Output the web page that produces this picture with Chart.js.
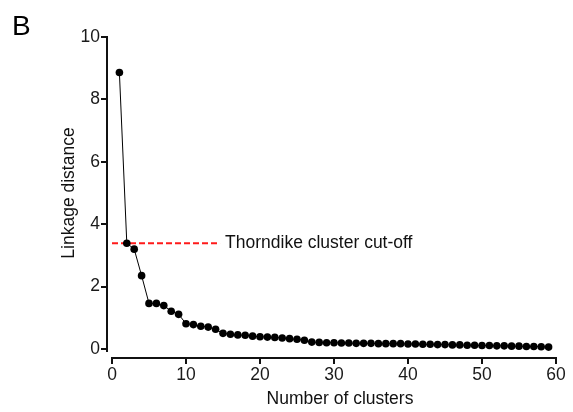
<!DOCTYPE html>
<html lang="en">
<head>
    <meta charset="UTF-8">
    <meta name="viewport" content="width=device-width, initial-scale=1.0">
    <title>Linkage distance</title>
    <script src="https://cdn.jsdelivr.net/npm/chart.js"></script>
    <style>
        html, body { margin: 0; padding: 0; background: #fff; }
        #wrap { width: 573px; height: 412px; }
    </style>
</head>
<body>
    <div id="wrap"><canvas id="chart"></canvas></div>

    <script>
        // number of clusters and linkage distance
        const clusters = [];
        for (let i = 1; i <= 59; i++) clusters.push(i);
        const distance = [
            8.86, 3.39, 3.20, 2.35, 1.46, 1.46, 1.39, 1.21, 1.11, 0.81,
            0.78, 0.73, 0.70, 0.63, 0.50, 0.47, 0.45, 0.44, 0.41, 0.39,
            0.38, 0.37, 0.35, 0.33, 0.31, 0.28, 0.22, 0.21, 0.20, 0.20,
            0.19, 0.19, 0.18, 0.18, 0.18, 0.17, 0.17, 0.17, 0.17, 0.16,
            0.16, 0.15, 0.15, 0.14, 0.14, 0.13, 0.13, 0.12, 0.12, 0.11,
            0.11, 0.10, 0.10, 0.09, 0.09, 0.08, 0.08, 0.07, 0.06
        ];
        // cut-off line
        const cutoffX = [0, 14.6];
        const cutoffY = 3.39;
        const cutoffLabel = 'Thorndike cluster cut-off';

        const xTicks = [0, 10, 20, 30, 40, 50, 60];
        const yTicks = [0, 2, 4, 6, 8, 10];
        const xTitle = 'Number of clusters';
        const yTitle = 'Linkage distance';

        const FONT = 'Liberation Sans, Arial, Helvetica, sans-serif';
        const FS = 17.5;
        Chart.defaults.font.family = FONT;
        Chart.defaults.color = '#1a1a1a';

        // axis lines like Prism (offset), titles, panel letter, cut-off label
        const extras = {
            id: 'extras',
            afterDraw(chart) {
                const ctx = chart.ctx;
                const x = chart.scales.x, y = chart.scales.y;
                ctx.save();
                ctx.strokeStyle = '#111';
                ctx.lineWidth = 2;
                ctx.beginPath();
                const ax = x.left;
                ctx.moveTo(ax, y.getPixelForValue(10) - 1);
                ctx.lineTo(ax, y.getPixelForValue(-0.1));
                ctx.moveTo(x.getPixelForValue(0) - 1, x.top);
                ctx.lineTo(x.getPixelForValue(60) + 1, x.top);
                ctx.stroke();

                ctx.fillStyle = '#000';
                ctx.font = '28px ' + FONT;
                ctx.textBaseline = 'alphabetic';
                ctx.fillText('B', 12, 35);

                ctx.font = FS + 'px ' + FONT;
                ctx.fillStyle = '#111';
                ctx.textBaseline = 'middle';
                ctx.fillText(cutoffLabel, x.getPixelForValue(cutoffX[1]) + 5, y.getPixelForValue(cutoffY));

                ctx.textAlign = 'center';
                ctx.fillText(xTitle, 340, 399);
                ctx.translate(69, 193);
                ctx.rotate(-Math.PI / 2);
                ctx.fillText(yTitle, 0, 0);
                ctx.restore();
            }
        };

        new Chart(document.getElementById('chart'), {
            type: 'line',
            data: {
                datasets: [
                    {
                        data: clusters.map((c, i) => ({ x: c, y: distance[i] })),
                        borderColor: '#000',
                        backgroundColor: '#000',
                        borderWidth: 1,
                        pointRadius: 3.8,
                        pointBorderWidth: 0,
                        tension: 0
                    },
                    {
                        data: cutoffX.map(v => ({ x: v, y: cutoffY })),
                        borderColor: '#ff1a1a',
                        borderWidth: 2,
                        borderDash: [6, 3],
                        pointRadius: 0
                    }
                ]
            },
            options: {
                responsive: true,
                maintainAspectRatio: false,
                animation: false,
                layout: { padding: { left: 0, top: 37, right: 17, bottom: 0 } },
                plugins: { legend: { display: false }, tooltip: { enabled: false } },
                scales: {
                    x: {
                        type: 'linear',
                        min: -0.676,
                        max: 60,
                        afterFit: s => { s.height = 54; },
                        afterBuildTicks: s => { s.ticks = xTicks.map(v => ({ value: v })); },
                        border: { display: false },
                        grid: { drawOnChartArea: false, drawTicks: true, tickLength: 6, color: '#111', lineWidth: 2 },
                        ticks: { font: { size: FS }, padding: 1, maxRotation: 0 }
                    },
                    y: {
                        min: -0.29,
                        max: 10,
                        afterFit: s => { s.width = 107; },
                        afterBuildTicks: s => { s.ticks = yTicks.map(v => ({ value: v })); },
                        border: { display: false },
                        grid: { drawOnChartArea: false, drawTicks: true, tickLength: 6, color: '#111', lineWidth: 2 },
                        ticks: { font: { size: FS }, padding: 1 }
                    }
                }
            },
            plugins: [extras]
        });
    </script>
</body>
</html>
